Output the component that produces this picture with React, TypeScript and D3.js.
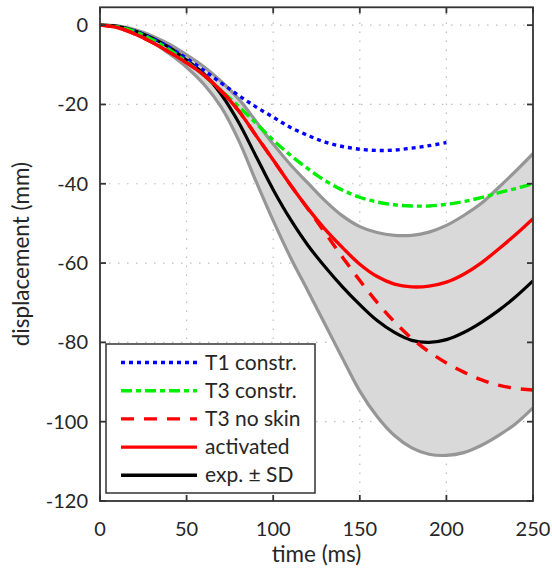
import React from "react";
import * as d3 from "d3";

const timeMs = [0, 10, 20, 30, 40, 50, 60, 70, 80, 90, 100, 110, 120, 130, 140, 150, 160, 170, 180, 190, 200, 210, 220, 230, 240, 250];
const expMean = [0, -0.3, -1.4, -3.2, -5.6, -8.8, -12.3, -17.5, -24.5, -33, -41.5, -49, -55.5, -61, -66, -70.5, -74.5, -77.5, -79.5, -80, -79.3, -77.5, -75, -72, -68.5, -64.5];
const expUpper = [0, -0.2, -1.1, -2.7, -4.8, -7.5, -10.5, -14.2, -18.6, -24.2, -30, -35.2, -39.8, -44.3, -48.1, -50.8, -52.3, -53, -53, -52.2, -50.5, -48, -45, -41, -36.8, -32.4];
const expLower = [0, -0.4, -1.9, -4.2, -7.2, -10.6, -14.9, -20.7, -29, -39.3, -49.3, -58.6, -67, -75.5, -84, -92.3, -98.7, -103.5, -106.6, -108.2, -108.5, -107.8, -106, -103.5, -100.5, -96.5];
const activated = [0, -0.6, -2.2, -4.3, -6.8, -9.5, -12.6, -16.6, -21.6, -27.8, -34, -40.3, -46.2, -51.5, -56.1, -60.3, -63.4, -65.3, -66, -65.8, -64.8, -62.8, -60, -56.5, -52.8, -48.8];
const t3NoSkin = [0, -0.6, -2.2, -4.3, -6.8, -9.5, -12.6, -16.6, -21.6, -27.8, -34, -40.3, -46.3, -52.4, -58.5, -64.4, -69.9, -74.8, -79, -82.4, -85.2, -87.5, -89.4, -90.8, -91.6, -92];
const t3Constr = [0, -0.4, -1.6, -3.6, -6.2, -9.2, -12.7, -16.5, -20.5, -24.7, -29, -32.8, -36.2, -39.2, -41.6, -43.4, -44.6, -45.3, -45.6, -45.6, -45.2, -44.5, -43.5, -42.3, -41.2, -40];
const t1Time = [0, 10, 20, 30, 40, 50, 60, 70, 80, 90, 100, 110, 120, 130, 140, 150, 160, 170, 180, 190, 200];
const t1Constr = [0, -0.4, -1.5, -3.3, -5.6, -8.4, -11.4, -14.6, -17.7, -20.6, -23.2, -25.8, -27.8, -29.5, -30.6, -31.3, -31.6, -31.5, -31, -30.4, -29.6];

const xTicks = [0, 50, 100, 150, 200, 250];
const yTicks = [0, -20, -40, -60, -80, -100, -120];
const legendLabels = ["T1 constr.", "T3 constr.", "T3 no skin", "activated", "exp. \u00b1 SD"];

export default function App() {
  const W = 552, H = 571;
  const x0 = 100, x1 = 533, yTop = 7.3, yBot = 501;
  const x = d3.scaleLinear().domain([0, 250]).range([x0, x1]);
  const y = d3.scaleLinear().domain([-120, 4.5]).range([yBot, yTop]);
  const font = "Lato, 'Open Sans', sans-serif";
  const txt = "#262626";

  const mk = (ts: number[], vs: number[]) =>
    d3.line<number>().x((_, i) => x(ts[i])).y((v) => y(v)).curve(d3.curveCatmullRom)(vs) || "";
  const area = d3
    .area<number>()
    .x((_, i) => x(timeMs[i]))
    .y0((_, i) => y(expLower[i]))
    .y1((v) => y(v))
    .curve(d3.curveCatmullRom)(expUpper) || "";

  const series = [
    { d: mk(t1Time, t1Constr), color: "#0000ff", dash: "4,4" },
    { d: mk(timeMs, t3Constr), color: "#00ee00", dash: "11,4,5,4" },
    { d: mk(timeMs, t3NoSkin), color: "#ff0000", dash: "13,10" },
    { d: mk(timeMs, activated), color: "#ff0000", dash: "" },
  ];
  const legendStyles = [
    { color: "#0000ff", dash: "4,4" },
    { color: "#00ee00", dash: "11,4,5,4" },
    { color: "#ff0000", dash: "13,10" },
    { color: "#ff0000", dash: "" },
    { color: "#000000", dash: "" },
  ];

  return (
    <svg width={W} height={H} style={{ position: "absolute", left: 0, top: 0, background: "#fff" }} fontFamily={font}>
      <defs>
        <clipPath id="pc">
          <rect x={x0} y={yTop} width={x1 - x0} height={yBot - yTop} />
        </clipPath>
      </defs>
      <g stroke="#bdbdbd" strokeWidth={1.2} strokeDasharray="1.5,7.5">
        {xTicks.slice(1, -1).map((t) => (
          <line key={"gx" + t} x1={x(t)} x2={x(t)} y1={yBot} y2={yTop} />
        ))}
        {yTicks.slice(0, -1).map((t) => (
          <line key={"gy" + t} x1={x0} x2={x1} y1={y(t)} y2={y(t)} />
        ))}
      </g>
      <g clipPath="url(#pc)">
        <path d={area} fill="#d9d9d9" stroke="none" />
        <path d={mk(timeMs, expUpper)} fill="none" stroke="#969696" strokeWidth={3.2} />
        <path d={mk(timeMs, expLower)} fill="none" stroke="#969696" strokeWidth={3.2} />
        <path d={mk(timeMs, expMean)} fill="none" stroke="#000" strokeWidth={3.2} />
        {series.map((s, i) => (
          <path key={i} d={s.d} fill="none" stroke={s.color} strokeWidth={3.4} strokeDasharray={s.dash || undefined} />
        ))}
      </g>
      <g stroke="#333" strokeWidth={1.8} fill="none">
        <rect x={x0} y={yTop} width={x1 - x0} height={yBot - yTop} />
        {xTicks.map((t) => (
          <g key={"tx" + t}>
            <line x1={x(t)} x2={x(t)} y1={yBot} y2={yBot - 6} />
            <line x1={x(t)} x2={x(t)} y1={yTop} y2={yTop + 6} />
          </g>
        ))}
        {yTicks.map((t) => (
          <g key={"ty" + t}>
            <line x1={x0} x2={x0 + 6} y1={y(t)} y2={y(t)} />
            <line x1={x1} x2={x1 - 6} y1={y(t)} y2={y(t)} />
          </g>
        ))}
      </g>
      <g fill={txt} fontSize={20}>
        {xTicks.map((t) => (
          <text key={"lx" + t} x={x(t)} y={536} textAnchor="middle">
            {t}
          </text>
        ))}
        {yTicks.map((t) => (
          <text key={"ly" + t} x={88} y={y(t) + 7} textAnchor="end">
            {t}
          </text>
        ))}
      </g>
      <text x={(x0 + x1) / 2} y={562} textAnchor="middle" fill={txt} fontSize={22.5}>
        time (ms)
      </text>
      <text transform={`translate(29,${(yTop + yBot) / 2}) rotate(-90)`} textAnchor="middle" fill={txt} fontSize={22.5}>
        displacement (mm)
      </text>
      <rect x={106} y={344} width={209} height={149} fill="#fff" stroke="#333" strokeWidth={1.5} />
      {legendLabels.map((lab, i) => {
        const cy = 362.5 + i * 28.2;
        const st = legendStyles[i];
        return (
          <g key={lab}>
            <line x1={121} x2={197} y1={cy} y2={cy} stroke={st.color} strokeWidth={3.4} strokeDasharray={st.dash || undefined} />
            <text x={205} y={cy + 7} fill={txt} fontSize={21}>
              {lab}
            </text>
          </g>
        );
      })}
    </svg>
  );
}
